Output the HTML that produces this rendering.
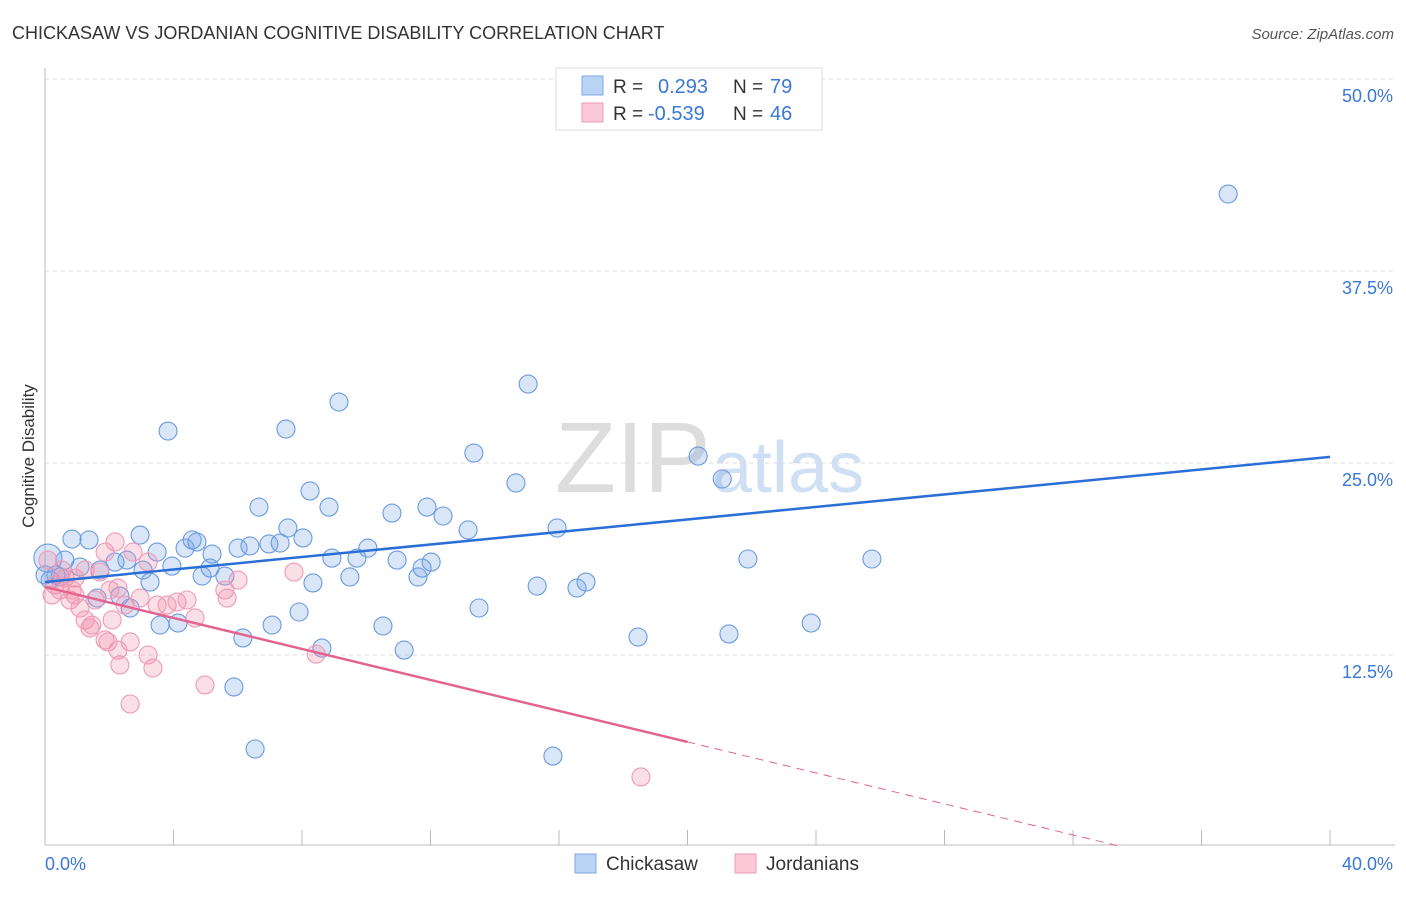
<!DOCTYPE html>
<html><head><meta charset="utf-8"><style>
body{margin:0;background:#fff;font-family:"Liberation Sans",sans-serif}
svg text{font-family:"Liberation Sans",sans-serif}
</style></head><body>
<svg id="c" width="1406" height="892" xmlns="http://www.w3.org/2000/svg">
<text x="12" y="39" font-size="18" fill="#333">CHICKASAW VS JORDANIAN COGNITIVE DISABILITY CORRELATION CHART</text>
<text x="1394" y="39" font-size="15" fill="#555" font-style="italic" text-anchor="end">Source: ZipAtlas.com</text>
<text x="555" y="492" font-size="100" fill="#ddd" font-family="Liberation Serif,serif">ZIP</text>
<text x="712" y="492" font-size="72" fill="#cfe0f4">atlas</text>
<text x="34" y="456" font-size="17" fill="#333" transform="rotate(-90 34 456)" text-anchor="middle">Cognitive Disability</text>
<g id="grid"></g><g id="pts"></g><g id="lines"></g>
<g>
<rect x="556" y="68" width="266" height="62" fill="#fff" stroke="#ddd"/>
<rect x="582" y="76" width="21" height="19" fill="#b9d3f5" stroke="#7aa7e6"/>
<rect x="582" y="103" width="21" height="19" fill="#fbc8d8" stroke="#ef9ab5"/>
<text x="613" y="93" font-size="19" fill="#333">R = </text><text x="658" y="93" font-size="20" fill="#3a78d8">0.293</text>
<text x="733" y="93" font-size="19" fill="#333">N = </text><text x="770" y="93" font-size="20" fill="#3a78d8">79</text>
<text x="613" y="120" font-size="19" fill="#333">R = </text><text x="648" y="120" font-size="20" fill="#3a78d8">-0.539</text>
<text x="733" y="120" font-size="19" fill="#333">N = </text><text x="770" y="120" font-size="20" fill="#3a78d8">46</text>
</g>
<g>
<rect x="575" y="854" width="21" height="19" fill="#b9d3f5" stroke="#7aa7e6"/>
<text x="606" y="870" font-size="19" fill="#333">Chickasaw</text>
<rect x="735" y="854" width="21" height="19" fill="#fbc8d8" stroke="#ef9ab5"/>
<text x="766" y="870" font-size="19" fill="#333">Jordanians</text>
</g>
</svg>
<script>
const yTicks=[12.5,25,37.5,50];
const yTickLabels=["12.5%","25.0%","37.5%","50.0%"];
const xTickLabels=["0.0%","40.0%"];
const blueX=[0.84,1.37,0.62,1.09,1.71,2.18,2.55,0.34,0.16,0.47,2.96,3.49,3.95,3.27,3.05,2.65,1.62,2.33,4.36,4.58,4.73,5.20,4.89,5.14,5.60,6.01,6.38,6.97,7.32,7.56,8.03,6.66,8.25,8.84,8.93,8.34,9.49,9.71,10.05,10.80,10.96,11.61,11.74,12.02,11.89,12.39,13.17,13.35,14.66,15.04,15.94,15.32,16.56,16.84,13.51,11.18,10.52,8.62,7.91,7.07,6.16,5.88,6.54,3.58,4.14,3.83,7.50,9.15,20.33,21.08,21.88,25.74,18.46,21.29,23.85,15.81,36.83,0.09,0.0];
const blueY=[20.05,19.99,18.68,18.23,18.03,18.55,18.68,17.71,17.38,17.58,20.31,19.20,18.29,17.25,18.03,15.56,16.21,16.34,19.46,19.99,19.86,19.07,17.64,18.16,17.64,19.46,19.60,19.73,19.79,20.77,20.12,22.13,23.18,22.13,18.81,17.19,17.58,18.81,19.46,21.74,18.68,17.58,18.16,18.55,22.13,21.55,20.64,25.65,23.70,30.14,20.77,16.99,16.86,17.25,15.56,12.82,14.39,12.95,15.30,14.45,13.61,10.42,6.38,14.45,14.58,27.08,27.21,28.97,25.45,23.96,18.75,18.75,13.67,13.87,14.58,5.92,42.51,18.81,17.71];
const pinkX=[0.31,0.47,0.22,0.62,0.78,0.93,1.09,1.25,1.40,1.56,1.71,1.87,2.02,2.09,2.27,2.18,2.33,2.49,2.65,2.74,2.96,3.21,3.21,3.36,3.49,3.80,4.11,4.42,4.67,4.98,5.60,5.67,6.01,2.65,7.75,8.44,18.55,0.53,0.93,1.87,1.96,1.25,1.46,2.27,0.84,0.09];
const pinkY=[17.06,16.73,16.41,17.51,16.08,16.41,15.56,14.78,14.26,16.08,17.90,19.20,16.73,14.78,16.86,19.86,11.85,15.75,13.35,19.20,16.21,18.55,12.50,11.65,15.75,15.75,15.95,16.08,14.91,10.55,16.73,16.21,17.38,9.31,17.90,12.56,4.56,18.03,17.51,13.48,13.35,18.03,14.45,12.82,16.73,18.68];
const blueTrend=[17.25,25.4];
const pinkTrend=[16.93,-3.25];
const pinkSolidEnd=20.0;
const NS="http://www.w3.org/2000/svg";
const X=v=>45+v/40*1285, Y=v=>847-v/12.5*192;
function mk(t,a,p){const e=document.createElementNS(NS,t);for(const k in a)e.setAttribute(k,a[k]);p.appendChild(e);return e;}
const grid=document.getElementById('grid');
yTicks.forEach((t,i)=>{
 const l=mk('line',{x1:45,x2:1395,y1:Y(t),y2:Y(t),stroke:'#ddd','stroke-dasharray':'4,4'},grid);
 
 
 const tx=mk('text',{x:1393,y:Y(t)+23,'font-size':18,fill:'#3a78d8','text-anchor':'end'},grid);tx.textContent=yTickLabels[i];
 
 
});
const ax=mk('line',{x1:45,x2:45,y1:68,y2:845,stroke:'#bbb'},grid);


const bx=mk('line',{x1:45,x2:1395,y1:845,y2:845,stroke:'#bbb'},grid);


for(let i=0;i<=10;i++){const t=mk('line',{x1:X(i*4),x2:X(i*4),y1:830,y2:845,stroke:'#bbb'},grid);
 
 }
[[0,45,'start'],[1,1393,'end']].forEach(([i,x,a])=>{const t=mk('text',{x:x,y:870,'font-size':18,fill:'#3a78d8','text-anchor':a},grid);t.textContent=xTickLabels[i];
 
 });
const pts=document.getElementById('pts');
blueX.forEach((x,i)=>{const c=mk('circle',{cx:X(x),cy:Y(blueY[i]),r:(i==77?14:9),fill:'rgba(120,165,230,0.28)',stroke:'#6a9ae0','stroke-width':1.1},pts);
 
 });
pinkX.forEach((x,i)=>{const c=mk('circle',{cx:X(x),cy:Y(pinkY[i]),r:9,fill:'rgba(240,140,170,0.28)',stroke:'#ee9ab5','stroke-width':1.1},pts);
 
 });
const lines=document.getElementById('lines');
const bl=mk('line',{x1:X(0),y1:Y(blueTrend[0]),x2:X(40),y2:Y(blueTrend[1]),stroke:'#2a6fd8','stroke-width':2.5},lines);


const pv=x=>pinkTrend[0]+(pinkTrend[1]-pinkTrend[0])*x/40;
const pl=mk('line',{x1:X(0),y1:Y(pinkTrend[0]),x2:X(pinkSolidEnd),y2:Y(pv(pinkSolidEnd)),stroke:'#e4628f','stroke-width':2.5},lines);


const xe=(0-pinkTrend[0])/(pinkTrend[1]-pinkTrend[0])*40;
const pd=mk('line',{x1:X(pinkSolidEnd),y1:Y(pv(pinkSolidEnd)),x2:X(xe),y2:Y(0),stroke:'#e4628f','stroke-width':1,'stroke-dasharray':'8,6'},lines);


</script>
</body></html>
